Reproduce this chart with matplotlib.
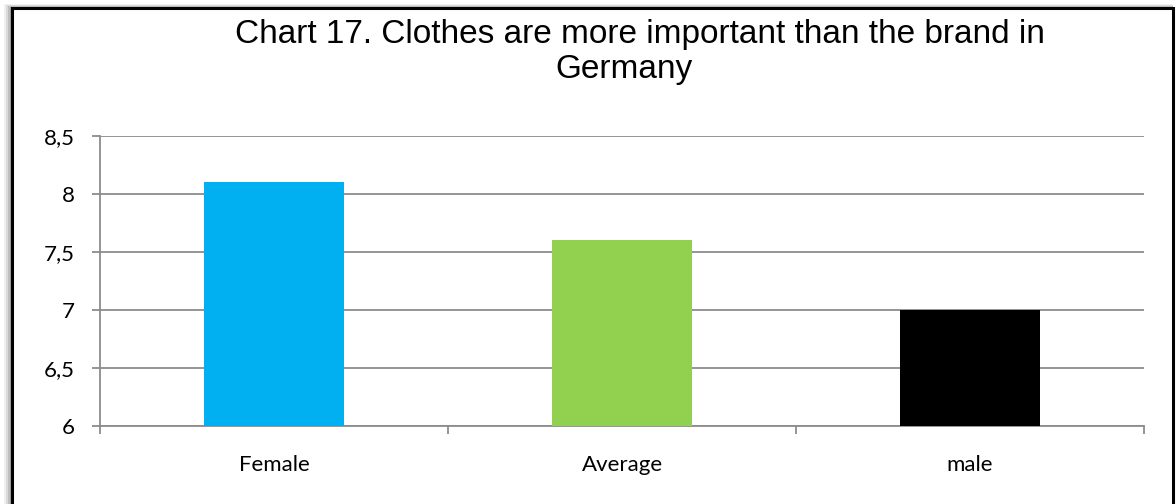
import matplotlib
matplotlib.use("Agg")
import matplotlib.pyplot as plt
from matplotlib.patches import Rectangle

categories = ["Female", "Average", "male"]
scores = [8.1, 7.6, 7.0]
bar_colors = ["#00B0F0", "#92D050", "#000000"]
y_ticks = [6, 6.5, 7, 7.5, 8, 8.5]
y_labels = ["6", "6,5", "7", "7,5", "8", "8,5"]
title_lines = ["Chart 17. Clothes are more important than the brand in", "Germany"]

W, H = 1176, 504
fig = plt.figure(figsize=(W / 100, H / 100), dpi=100)
fig.patch.set_facecolor("white")

# soft shadow + black frame around the chart area
for i, a in enumerate([0.06, 0.09, 0.12, 0.16]):
    off = 8 - 2 * i
    fig.patches.append(Rectangle(((12 - off) / W, -0.1), (1161 + off) / W, (496 + off * 0.5) / H + 0.1,
                                 transform=fig.transFigure, facecolor="black", alpha=a,
                                 edgecolor="none", zorder=0))
fig.patches.append(Rectangle((12 / W, -0.1), 1161 / W, 496 / H + 0.1,
                             transform=fig.transFigure, facecolor="white",
                             edgecolor="black", linewidth=2.2, zorder=1))

ax = fig.add_axes([100 / W, 78 / H, 1044 / W, 290 / H])
ax.set_zorder(2)
ax.patch.set_alpha(0)

x = range(len(categories))
ax.bar(x, scores, width=0.4, color=bar_colors, zorder=3, bottom=0)
ax.set_xlim(-0.5, len(categories) - 0.5)
ax.set_ylim(6, 8.5)

grid_col = "#8c8c8c"
ax.set_yticks(y_ticks)
ax.set_yticklabels(y_labels, fontfamily="Lato", fontsize=16)
ax.grid(axis="y", color=grid_col, linewidth=1.3, zorder=1)
ax.set_axisbelow(True)

ax.set_xticks(list(x))
ax.set_xticklabels(categories, fontfamily="Lato", fontsize=16)
ax.set_xticks([i - 0.5 for i in range(len(categories) + 1)], minor=True)
ax.tick_params(axis="x", which="major", length=0, pad=21)
ax.tick_params(axis="x", which="minor", length=5.5, width=1.3, color=grid_col, direction="out")
ax.tick_params(axis="y", length=6, width=1.3, color=grid_col, direction="out", pad=12)

for side in ["top", "right"]:
    ax.spines[side].set_visible(False)
for side in ["left", "bottom"]:
    ax.spines[side].set_color(grid_col)
    ax.spines[side].set_linewidth(1.3)

# two-line title, each line placed on its own baseline
for line, cx, base in zip(title_lines, [640, 624], [43, 78]):
    fig.text(cx / W, 1 - base / H, line, ha="center", va="baseline",
             fontfamily="Liberation Sans", fontsize=24, zorder=3)

fig.savefig("out.png", dpi=100, facecolor="white")
